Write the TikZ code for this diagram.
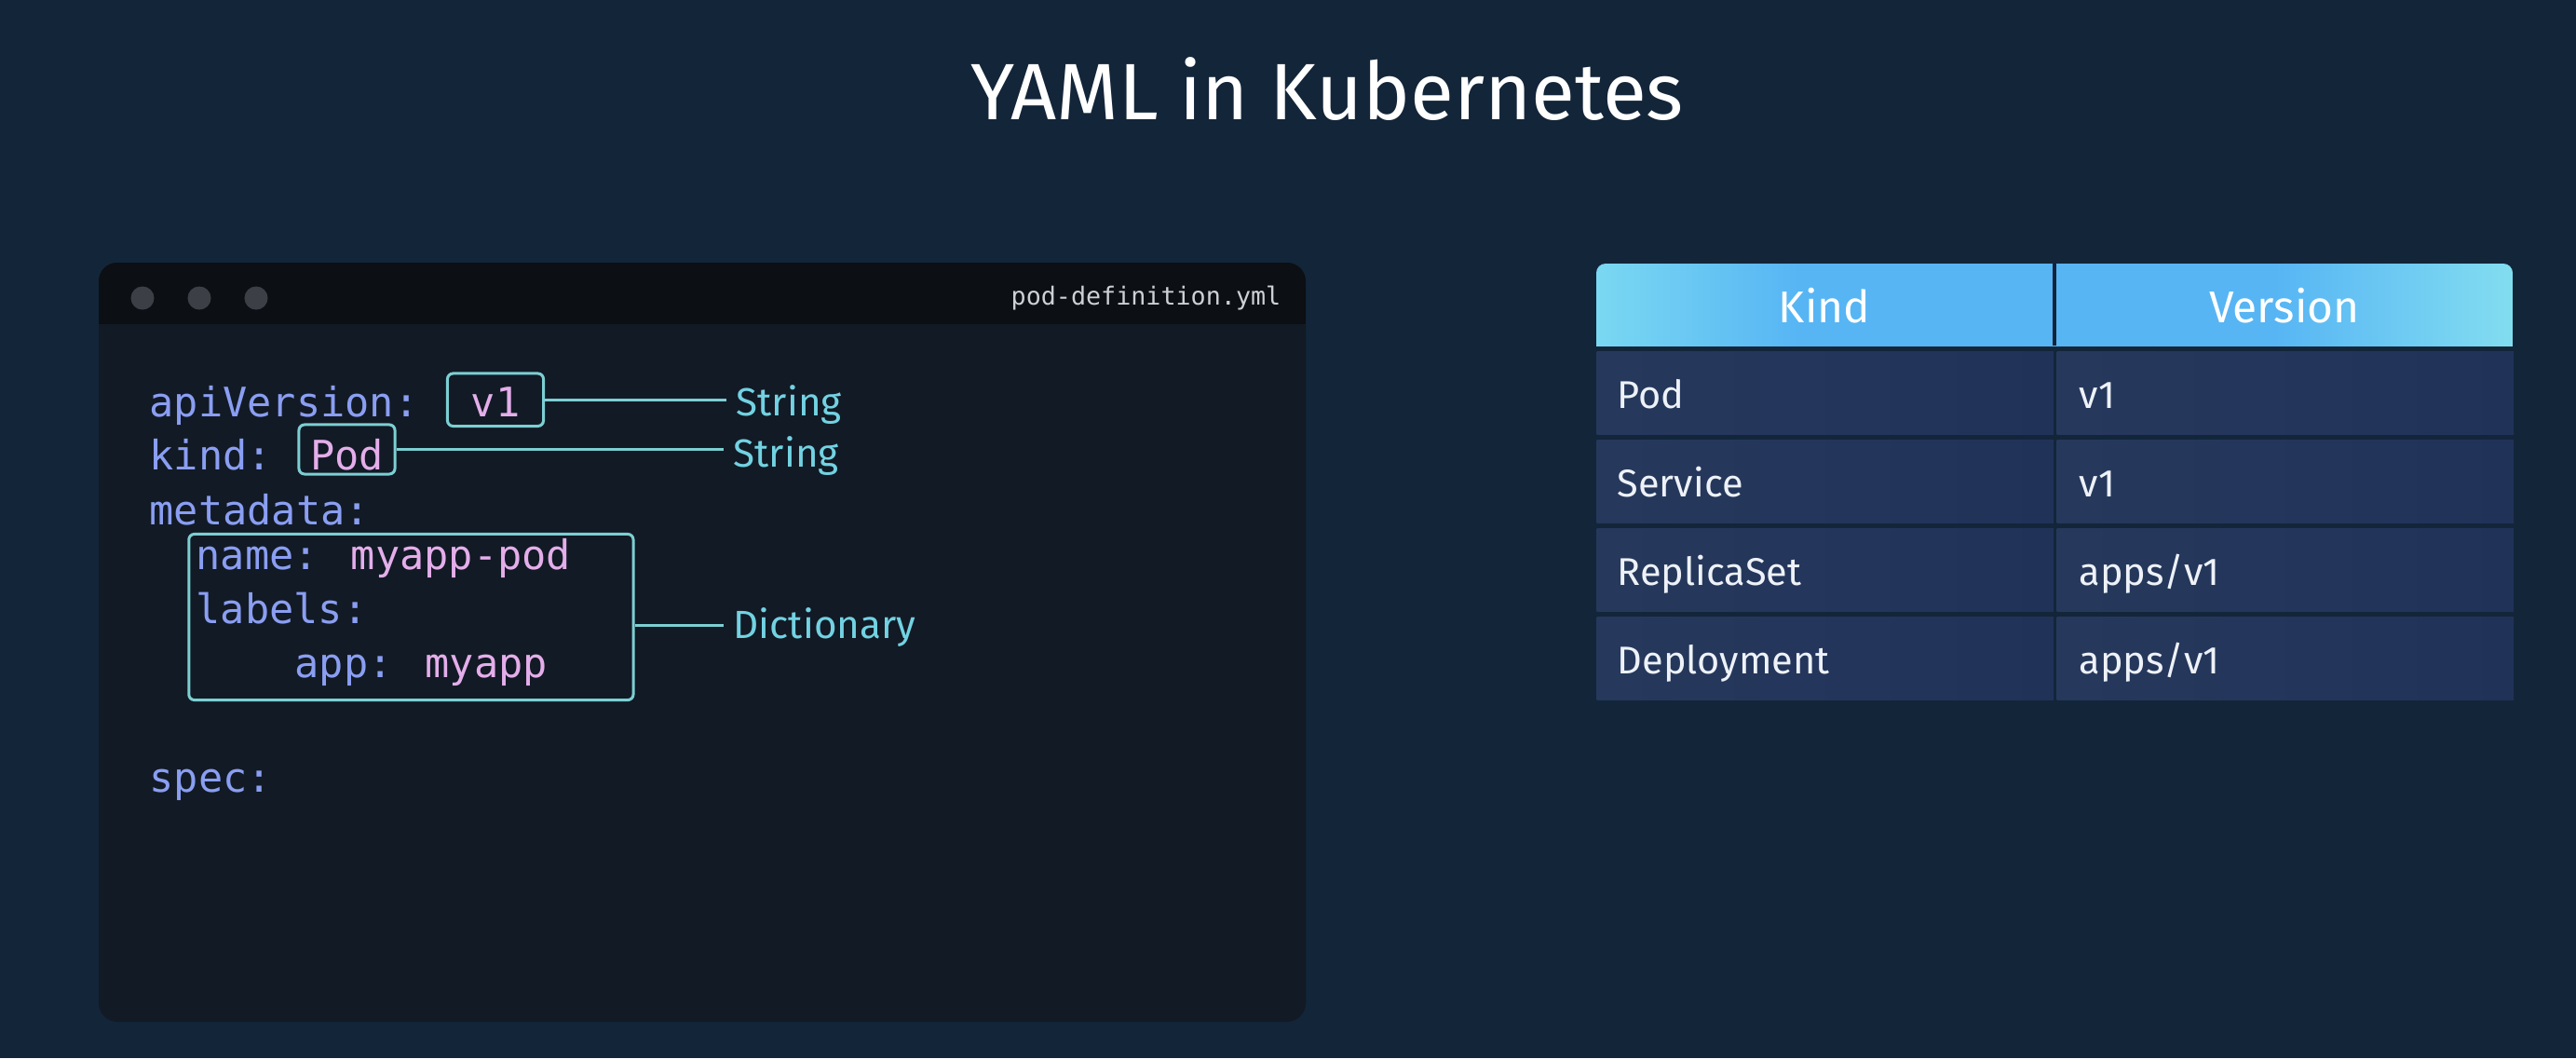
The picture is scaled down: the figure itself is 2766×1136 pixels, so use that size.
\documentclass[tikz,border=0pt]{standalone}
\usepackage{fontspec}
\setmainfont{Fira Sans}
\newfontfamily\codefont{DejaVu Sans Mono}
\usetikzlibrary{calc}
\definecolor{bgc}{HTML}{132539}
\definecolor{winc}{HTML}{121A25}
\definecolor{barc}{HTML}{0C0F13}
\definecolor{dotc}{HTML}{3C4046}
\definecolor{fnc}{HTML}{CDD1D6}
\definecolor{keyc}{HTML}{8A9EF2}
\definecolor{valc}{HTML}{E4AEEA}
\definecolor{boxc}{HTML}{7CCFD2}
\definecolor{lblc}{HTML}{72D2E2}
\definecolor{hdrA}{HTML}{7AD8F2}
\definecolor{hdrB}{HTML}{57B5F4}
\definecolor{hdrC}{HTML}{82DDF0}
\definecolor{rowL}{HTML}{26395C}
\definecolor{rowR}{HTML}{213259}
\definecolor{sepc}{HTML}{142339}
\definecolor{txtc}{HTML}{EEF2F8}
\pgfdeclarehorizontalshading{hdrshade}{100bp}{color(0bp)=(hdrA); color(25bp)=(hdrA); color(36bp)=(hdrB); color(62bp)=(hdrB); color(75bp)=(hdrC); color(100bp)=(hdrC)}
\tikzset{
  code/.style={font=\codefont\fontsize{12.4pt}{14pt}\selectfont, inner sep=0pt, anchor=base west},
  valbox/.style={draw=boxc, line width=0.03cm, rounded corners=0.06cm, inner sep=0pt, anchor=base, text=valc, font=\codefont\fontsize{12.4pt}{14pt}\selectfont, minimum width=1.03cm},
  tlabel/.style={font=\fontsize{12pt}{14pt}\selectfont, text=lblc, inner xsep=0.1cm, inner ysep=0pt, anchor=base west},
  conn/.style={draw=boxc, line width=0.03cm},
  dot/.style={circle, fill=dotc, minimum size=0.25cm, inner sep=0pt},
  cell/.style={left color=rowL, right color=rowR, minimum width=4.9cm, minimum height=0.885cm, inner sep=0pt, anchor=north west},
  celltxt/.style={font=\fontsize{11.8pt}{14pt}\selectfont, text=txtc, inner sep=0pt, anchor=base west},
  hdrtxt/.style={font=\fontsize{13.6pt}{16pt}\selectfont, text=white, inner sep=0pt, anchor=base},
}
\begin{document}
\begin{tikzpicture}[x=0.01cm, y=-0.01cm]
\useasboundingbox (0,0) rectangle (2766,1136);
\fill[bgc] (0,0) rectangle (2766,1136);
% title
\node[font=\fontsize{24.4pt}{28pt}\selectfont, text=white, inner sep=0pt, anchor=base] (title) at (1425,128) {YAML in Kubernetes};
% window
\fill[winc] [rounded corners=0.2cm] (106,282) rectangle (1402,1097);
\begin{scope}
  \clip[rounded corners=0.2cm] (106,282) rectangle (1402,1097);
  \fill[barc] (106,282) rectangle (1402,348);
\end{scope}
\node[dot] (d1) at (153,320) {};
\node[dot] (d2) at (214,320) {};
\node[dot] (d3) at (275,320) {};
\node[font=\codefont\fontsize{7.6pt}{9pt}\selectfont, text=fnc, inner sep=0pt, anchor=base east] (fname) at (1376,327) {pod-definition.yml};
% code
\node[code, text=keyc] (l1) at (160,447) {apiVersion:};
\node[valbox, text height=0.46cm, text depth=0.105cm] (v1) at (532,447) {v1};
\node[code, text=keyc] (l2) at (160,504) {kind:};
\node[valbox, text height=0.48cm, text depth=0.05cm] (pod) at (372.5,504) {Pod};
\node[code, text=keyc] (l3) at (160,563) {metadata:};
\node[code] (l4) at (210,611) {\color{keyc}name: \color{valc}myapp-pod};
\node[code, text=keyc] (l5) at (210,669) {labels:};
\node[code] (l6) at (316,727) {\color{keyc}app: \color{valc}myapp};
\node[code, text=keyc] (l7) at (160,850) {spec:};
\node[draw=boxc, line width=0.03cm, rounded corners=0.06cm, minimum width=4.77cm, minimum height=1.78cm, inner sep=0pt] (dict) at (441.4,662.5) {};
% labels
\node[tlabel] (s1) at (780,446) {String};
\node[tlabel] (s2) at (777,501.5) {String};
\node[tlabel] (s3) at (777,685) {Dictionary};
\draw[conn] (v1.east) -- (v1.east -| s1.west);
\draw[conn] (pod.east) -- (pod.east -| s2.west);
\coordinate (dj) at ($(dict.east)+(0,8.5)$);
\draw[conn] (dj) -- (dj -| s3.west);
% table
\begin{scope}
  \clip[rounded corners=0.1cm] (1714,283) rectangle (2698,420);
  \shade[shading=hdrshade] (1714,283) rectangle (2698,371);
\end{scope}
\node[inner sep=0pt, minimum width=9.84cm, minimum height=0.88cm, anchor=north west] (hdr) at (1714,283) {};
\fill[sepc] (2204,283) rectangle (2208,371);
\node[hdrtxt] (hk) at (1959,346) {Kind};
\node[hdrtxt] (hv) at (2453,346) {Version};
\foreach \i/\k/\v in {0/Pod/v1, 1/Service/v1, 2/ReplicaSet/apps\slash v1, 3/Deployment/apps\slash v1} {
  \node[cell] (r\i a) at (1714,{377+95*\i}) {};
  \node[cell] (r\i b) at (2208,{377+95*\i}) {};
  \node[celltxt] (t\i a) at (1736,{438+95*\i}) {\k};
  \node[celltxt] (t\i b) at (2232,{438+95*\i}) {\v};
}
\end{tikzpicture}
\end{document}
